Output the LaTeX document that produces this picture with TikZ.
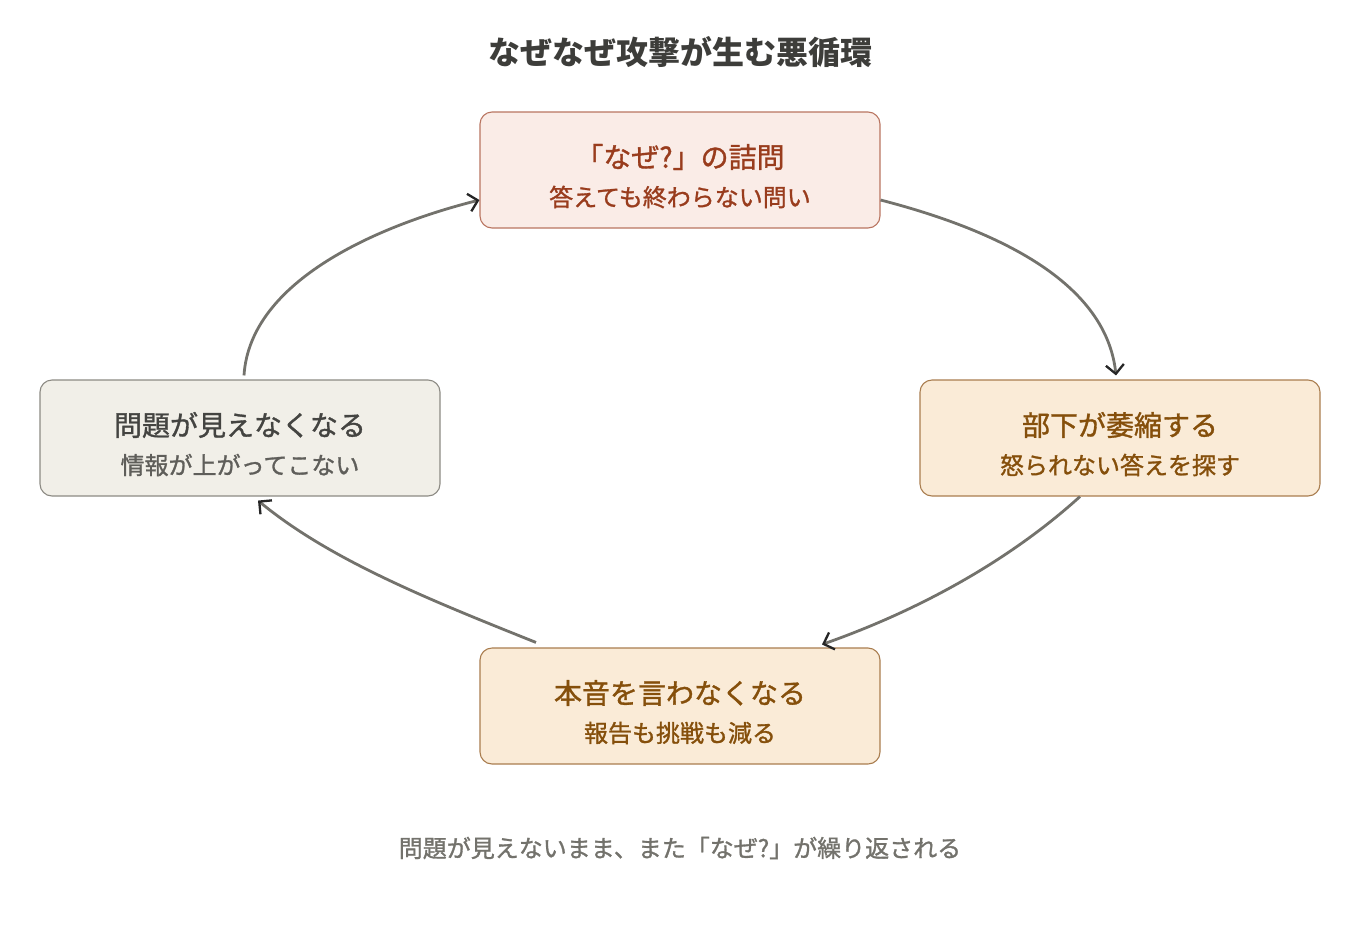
\documentclass[tikz,border=0pt]{standalone}
\usepackage{fontspec}
\setmainfont{Noto Sans CJK JP}
\newfontfamily\jpmed{Noto Sans CJK JP}[FakeBold=1.2]
\usetikzlibrary{arrows.meta}
\definecolor{redfill}{HTML}{FAECE7}
\definecolor{redline}{HTML}{B97561}
\definecolor{redtext}{HTML}{993C1D}
\definecolor{ambfill}{HTML}{FAEBD7}
\definecolor{ambline}{HTML}{A97D4F}
\definecolor{ambtext}{HTML}{854F0B}
\definecolor{grayfill}{HTML}{F1EFE8}
\definecolor{grayline}{HTML}{8C8A83}
\definecolor{graytext}{HTML}{444441}
\definecolor{graysub}{HTML}{5F5E5A}
\definecolor{linec}{HTML}{73726C}
\definecolor{titlec}{HTML}{3D3D3A}
\begin{document}
\begin{tikzpicture}[x=1pt,y=-1pt,
  box/.style={rounded corners=12pt, line width=1.1pt, minimum width=400pt, minimum height=116pt, inner sep=0pt},
  flow/.style={draw=linec, line width=2.8pt, -{Straight Barb[length=9pt,width=18pt,line width=2.3pt,color=black!85]}},
  ttl/.style={font=\jpmed\fontsize{28}{32}\selectfont},
  sub/.style={font=\jpmed\fontsize{24}{28}\selectfont}]
\useasboundingbox (0,0) rectangle (1360,940);
\node[font=\bfseries\fontsize{32}{36}\selectfont, text=titlec] (title) at (680,52) {なぜなぜ攻撃が生む悪循環};
\node[box, fill=redfill, draw=redline] (top) at (680,170) {};
\node[ttl, text=redtext] (topt) at (680,157) {「なぜ?」の詰問};
\node[sub, text=redtext] (tops) at (680,197) {答えても終わらない問い};
\node[box, fill=ambfill, draw=ambline] (right) at (1120,438) {};
\node[ttl, text=ambtext] (rightt) at (1120,425) {部下が萎縮する};
\node[sub, text=ambtext] (rights) at (1120,465) {怒られない答えを探す};
\node[box, fill=ambfill, draw=ambline] (bottom) at (680,706) {};
\node[ttl, text=ambtext] (bottomt) at (680,693) {本音を言わなくなる};
\node[sub, text=ambtext] (bottoms) at (680,733) {報告も挑戦も減る};
\node[box, fill=grayfill, draw=grayline] (left) at (240,438) {};
\node[ttl, text=graytext] (leftt) at (240,425) {問題が見えなくなる};
\node[sub, text=graysub] (lefts) at (240,465) {情報が上がってこない};
\node[font=\jpmed\fontsize{24}{28}\selectfont, text=linec] (foot) at (680,848) {問題が見えないまま、また「なぜ?」が繰り返される};
\draw[flow] ([yshift=-30pt]top.east) .. controls (1035,240) and (1108,300) .. ([xshift=-4pt,yshift=4pt]right.north);
\draw[flow] ([xshift=-40pt]right.south) .. controls (1010,560) and (920,610) .. ([xshift=142pt,yshift=3pt]bottom.north);
\draw[flow] ([xshift=-144pt,yshift=5pt]bottom.north) .. controls (430,600) and (330,560) .. ([xshift=18pt,yshift=-4pt]left.south);
\draw[flow] ([xshift=4pt,yshift=4pt]left.north) .. controls (250,280) and (380,225) .. ([yshift=-30pt]top.west);
\end{tikzpicture}
\end{document}
